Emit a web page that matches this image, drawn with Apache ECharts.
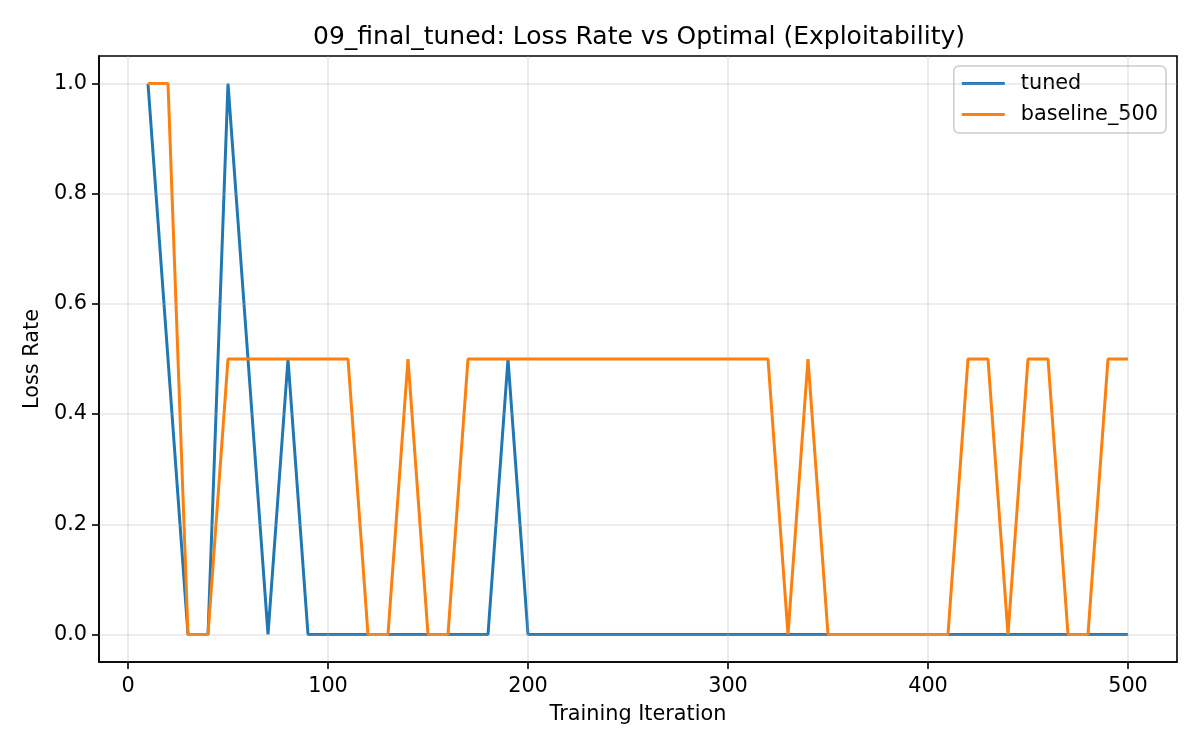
<!DOCTYPE html>
<html><head><meta charset="utf-8">
<script src="https://cdn.jsdelivr.net/npm/echarts@6/dist/echarts.min.js"></script>
<style>html,body{margin:0;padding:0;background:#fff}#c{width:1200px;height:750px}</style>
</head><body><div id="c"></div>
<script>
const iterations = [10,20,30,40,50,60,70,80,90,100,110,120,130,140,150,160,170,180,190,200,210,220,230,240,250,260,270,280,290,300,310,320,330,340,350,360,370,380,390,400,410,420,430,440,450,460,470,480,490,500];
const tuned = [1,0.5,0,0,1,0.5,0,0.5,0,0,0,0,0,0,0,0,0,0,0.5,0,0,0,0,0,0,0,0,0,0,0,0,0,0,0,0,0,0,0,0,0,0,0,0,0,0,0,0,0,0,0];
const baseline500 = [1,1,0,0,0.5,0.5,0.5,0.5,0.5,0.5,0.5,0,0,0.5,0,0,0.5,0.5,0.5,0.5,0.5,0.5,0.5,0.5,0.5,0.5,0.5,0.5,0.5,0.5,0.5,0.5,0,0.5,0,0,0,0,0,0,0,0.5,0.5,0,0.5,0.5,0,0,0.5,0.5];
const xTicks = [0,100,200,300,400,500];
const yTicks = [0,0.2,0.4,0.6,0.8,1.0];

const font = 'DejaVu Sans';
const fs = 20.8;
const chart = echarts.init(document.getElementById('c'), null, {renderer:'canvas'});
chart.setOption({
  animation:false,
  backgroundColor:'#fff',
  title:{text:'09_final_tuned: Loss Rate vs Optimal (Exploitability)', left:634, top:20, textAlign:'center',
    textStyle:{fontFamily:font, fontSize:25, fontWeight:'normal', color:'#000'}},
  legend:{right:34, top:66, orient:'vertical', itemWidth:43, itemHeight:3, itemGap:10,
    padding:[7,8,8,8], borderColor:'#cccccc', borderWidth:1.5, borderRadius:5, backgroundColor:'rgba(255,255,255,0.8)',
    textStyle:{fontFamily:font, fontSize:fs, lineHeight:21, color:'#000', padding:[0,0,0,11]},
    icon:'rect',
    data:['tuned','baseline_500']},
  grid:{left:99, right:23, top:56, bottom:88, show:true, borderColor:'#000', borderWidth:1.6, containLabel:false},
  xAxis:{type:'value', min:-14.5, max:524.5,
    name:'Training Iteration', nameLocation:'middle', nameGap:42,
    nameTextStyle:{fontFamily:font, fontSize:fs, color:'#000'},
    axisLine:{show:true, onZero:false, lineStyle:{color:'#000', width:1.6}},
    axisTick:{show:true, length:7, lineStyle:{color:'#000', width:1.6}, customValues:xTicks},
    axisLabel:{fontFamily:font, fontSize:fs, color:'#000', margin:14, customValues:xTicks, formatter:v=>String(Math.round(v))},
    splitLine:{show:false}},
  yAxis:{type:'value', min:-0.05, max:1.05,
    name:'Loss Rate', nameLocation:'middle', nameGap:56, nameRotate:90,
    nameTextStyle:{fontFamily:font, fontSize:fs, color:'#000'},
    axisLine:{show:true, onZero:false, lineStyle:{color:'#000', width:1.6}},
    axisTick:{show:true, length:7, lineStyle:{color:'#000', width:1.6}, customValues:yTicks},
    axisLabel:{fontFamily:font, fontSize:fs, color:'#000', margin:12, customValues:yTicks, formatter:v=>v.toFixed(1)},
    splitLine:{show:false}},
  series:[
    {name:'grid', type:'line', data:[], silent:true, legendHoverLink:false,
      markLine:{silent:true, symbol:'none', label:{show:false},
        lineStyle:{color:'#b0b0b0', opacity:0.3, type:'solid', width:1.6},
        data: xTicks.map(v=>({xAxis:v})).concat(yTicks.map(v=>({yAxis:v})))}},
    {name:'tuned', type:'line', data:iterations.map((x,i)=>[x,tuned[i]]), showSymbol:false, symbol:'none',
      lineStyle:{color:'#1f77b4', width:3}, itemStyle:{color:'#1f77b4'}},
    {name:'baseline_500', type:'line', data:iterations.map((x,i)=>[x,baseline500[i]]), showSymbol:false, symbol:'none',
      lineStyle:{color:'#ff7f0e', width:3}, itemStyle:{color:'#ff7f0e'}}
  ]
});
</script></body></html>
